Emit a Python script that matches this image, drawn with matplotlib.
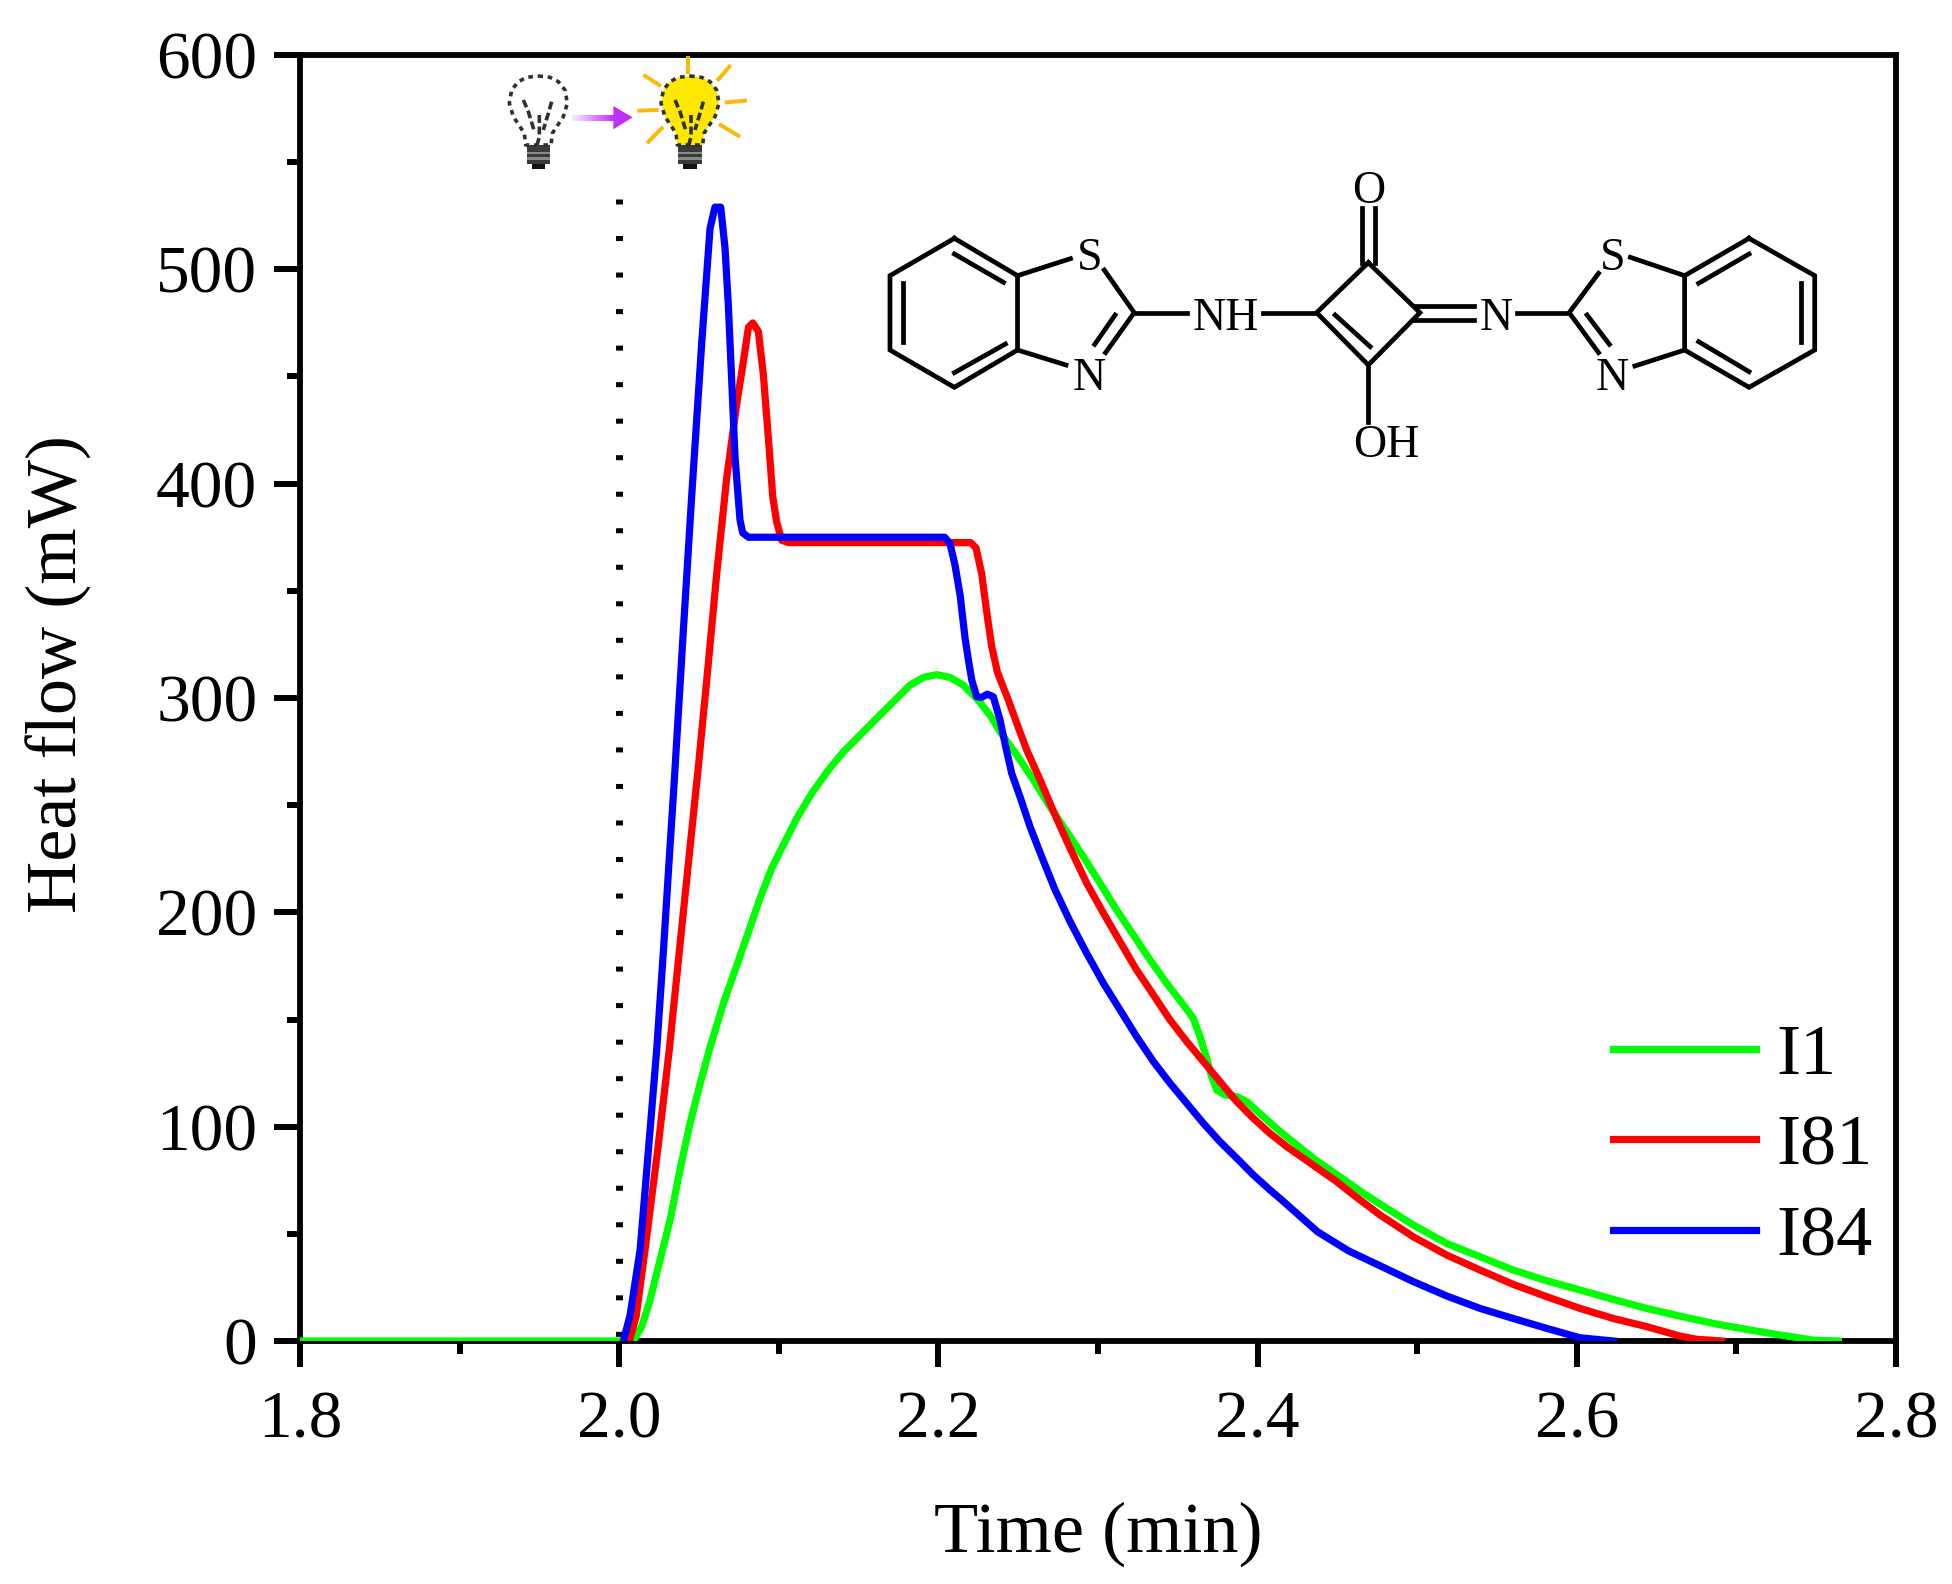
import matplotlib
matplotlib.use('Agg')
import matplotlib.pyplot as plt
from matplotlib.patches import Polygon, Rectangle
from matplotlib.ticker import MultipleLocator

plt.rcParams['font.family'] = ['Liberation Serif', 'DejaVu Serif']

# values
i1_x = [1.8, 2.0, 2.0089, 2.0141, 2.0193, 2.0256, 2.0319, 2.0381, 2.0444, 2.0507, 2.0569, 2.0653,
        2.0745, 2.082, 2.0882, 2.0955, 2.1028, 2.1112, 2.1206, 2.1311, 2.1405, 2.1509, 2.1613,
        2.1718, 2.1822, 2.1906, 2.1989, 2.2073, 2.2156, 2.224, 2.2323, 2.2386, 2.2491, 2.2595,
        2.2699, 2.2804, 2.2908, 2.3013, 2.3117, 2.3221, 2.3326, 2.343, 2.3535, 2.3597, 2.3639,
        2.3681, 2.3712, 2.3744, 2.3796, 2.3869, 2.3932, 2.4036, 2.4141, 2.4245, 2.4349, 2.4454,
        2.4558, 2.4662, 2.4767, 2.4976, 2.5185, 2.5394, 2.5602, 2.5811, 2.602, 2.6229, 2.6438,
        2.6647, 2.6856, 2.7064, 2.7273, 2.7482, 2.7639]
i1_y = [0, 0, 0, 6.7, 19, 37.8, 56.5, 80, 101.6, 120, 137, 157.6,
        177, 193, 206.5, 220.5, 231.4, 243.8, 255.5, 266.4, 274.9, 282.7, 290.5,
        298.3, 306, 309.6, 310.9, 309.6, 306, 299.8, 292, 284.3, 273.4, 261.8,
        249.3, 237.7, 226, 213.6, 201.1, 189.5, 177.8, 166.9, 156.8, 150.6, 142,
        131.9, 123.4, 117.1, 114.8, 114, 111.7, 104.7, 97.7, 91.5, 85.3, 79.8,
        74.4, 69, 63.9, 54.1, 45.5, 39.3, 33.1, 28.1, 23.8, 19.4, 15.2,
        11.6, 8.2, 5.4, 2.8, 0.4, 0]

i81_x = [2.0064, 2.0106, 2.0162, 2.0241, 2.0314, 2.0377, 2.0442, 2.0496, 2.0548, 2.0611, 2.0674,
         2.0736, 2.0778, 2.081, 2.0837, 2.0872, 2.0903, 2.0935, 2.0962, 2.0987, 2.1018, 2.106,
         2.2202, 2.2236, 2.2271, 2.2303, 2.2334, 2.237, 2.2438, 2.2491, 2.2553, 2.2637, 2.2731,
         2.2825, 2.2929, 2.3034, 2.3138, 2.3242, 2.3347, 2.3451, 2.3556, 2.366, 2.3764, 2.3869,
         2.3973, 2.4077, 2.4182, 2.4286, 2.4391, 2.4495, 2.46, 2.4767, 2.4976, 2.5185, 2.5394,
         2.5602, 2.5811, 2.602, 2.6229, 2.6438, 2.6647, 2.6751, 2.6908]
i81_y = [0, 11.4, 42.5, 89, 136, 182, 229, 268, 308, 358, 403,
         437, 457, 473, 475, 471, 451, 421, 394, 382, 373.6, 372.5,
         372.5, 370, 358, 340, 324, 312, 299.1, 288.2, 275.8, 261.8, 245.4,
         229.9, 213.6, 199.6, 186.3, 173.1, 161.5, 149.8, 139.7, 130.4, 121, 111.7,
         103.9, 96.9, 90.7, 85.3, 79.8, 74.4, 68.2, 58.8, 48.6, 40.1, 33.1,
         26.4, 20.7, 15.2, 10.5, 6.7, 2.3, 0.8, 0]

i84_x = [2.0026, 2.0068, 2.0131, 2.0183, 2.0235, 2.0277, 2.0317, 2.0344, 2.0402, 2.0454, 2.0517,
         2.0569, 2.06, 2.0636, 2.0663, 2.0684, 2.0705, 2.0726, 2.0757, 2.0774, 2.081, 2.204,
         2.2073, 2.2104, 2.2136, 2.2167, 2.2188, 2.2209, 2.224, 2.2271, 2.2307, 2.2344, 2.2386,
         2.2417, 2.2459, 2.2511, 2.2574, 2.2647, 2.2731, 2.2825, 2.2929, 2.3034, 2.3138, 2.3242,
         2.3347, 2.3451, 2.3556, 2.366, 2.3764, 2.3869, 2.3973, 2.4077, 2.4151, 2.4375, 2.4571,
         2.4767, 2.4976, 2.5185, 2.5394, 2.5602, 2.5811, 2.602, 2.6229]
i84_y = [0, 12, 42.5, 89, 136, 182, 229, 260, 331.6, 394, 465.6,
         519, 529, 529, 510, 483, 448, 412, 383, 377, 375, 375,
         372, 362, 348, 328, 317.7, 308.4, 300.6, 300.3, 301.8, 300.6, 289.8,
         278.9, 264.9, 254, 240, 226, 210.5, 195.7, 180.9, 166.9, 154.5, 142,
         130.4, 120.3, 110.9, 101.6, 93, 85.3, 77.5, 70.5, 65.8, 51, 42,
         35.1, 27.7, 21, 15.2, 10.5, 5.9, 1.5, 0]

labels = ['I1', 'I81', 'I84']
colors = ['#00FF00', '#FF0000', '#0000FF']

fig = plt.figure(figsize=(19.52, 15.84), dpi=100)
ax = fig.add_axes([300 / 1952, 1 - 1341 / 1584, 1596 / 1952, 1286 / 1584])

ax.plot([2.0, 2.0], [532.6, 0], color='black', lw=5, linestyle=(0, (0.72, 4.54)), zorder=2, clip_on=False)
ax.plot(i1_x, i1_y, color=colors[0], lw=5.2, label=labels[0], zorder=3)
ax.plot(i81_x, i81_y, color=colors[1], lw=5.2, label=labels[1], zorder=3)
ax.plot(i84_x, i84_y, color=colors[2], lw=5.2, label=labels[2], zorder=3)

ax.set_xlim(1.8, 2.8)
ax.set_ylim(0, 600)
ax.set_xticks([1.8, 2.0, 2.2, 2.4, 2.6, 2.8])
ax.set_xticklabels(['1.8', '2.0', '2.2', '2.4', '2.6', '2.8'])
ax.set_yticks([0, 100, 200, 300, 400, 500, 600])
ax.xaxis.set_minor_locator(MultipleLocator(0.1))
ax.yaxis.set_minor_locator(MultipleLocator(50))
ax.tick_params(which='major', length=18.7, width=4.3, labelsize=48.5)
ax.tick_params(axis='x', which='major', pad=17)
ax.tick_params(axis='y', which='major', pad=12)
ax.tick_params(which='minor', length=9.4, width=4.3)
for s in ax.spines.values():
    s.set_linewidth(4.2)
ax.set_xlabel('Time (min)', fontsize=52, labelpad=36)
ax.set_ylabel('Heat flow (mW)', fontsize=52)
ax.yaxis.set_label_coords(-0.1303, 0.519)
ax.legend(loc='lower right', bbox_to_anchor=(0.9853, 0.0552), frameon=False, fontsize=52, borderpad=0,
          borderaxespad=0, handlelength=1.98, handletextpad=0.28, labelspacing=0.345)

# overlay in image pixels for the molecule and the bulbs
ov = fig.add_axes([0, 0, 1, 1], zorder=5)
ov.set_xlim(0, 1952)
ov.set_ylim(1584, 0)
ov.axis('off')
ov.patch.set_alpha(0)


def mol_xy(zx, zy):
    return 860 + zx / 1.568, 160 + zy / 3


mol_bonds = [
    # left benzene
    [(148, 235), (247, 347), (247, 570), (148, 682), (47, 570), (47, 347), (148, 235)],
    [(148, 282), (225, 367)], [(67, 370), (67, 547)], [(148, 638), (228, 552)],
    # left thiazole
    [(247, 347), (330, 296)], [(247, 570), (323, 615)], [(383, 330), (430, 458), (385, 578)],
    [(400, 465), (368, 553)], [(430, 458), (513, 458)], [(632, 458), (716, 458)],
    # squaraine ring
    [(797, 308), (878, 458), (797, 615), (716, 458), (797, 308)], [(745, 465), (800, 560)],
    [(787, 310), (787, 145)], [(808, 310), (808, 145)], [(797, 615), (797, 785)],
    [(870, 437), (963, 437)], [(870, 480), (963, 480)], [(1030, 458), (1112, 458)],
    # right thiazole
    [(1158, 340), (1112, 458), (1158, 578)], [(1140, 465), (1175, 553)],
    [(1208, 292), (1293, 347)], [(1215, 618), (1293, 570)],
    # right benzene
    [(1394, 235), (1497, 347), (1497, 570), (1394, 682), (1293, 570), (1293, 347), (1394, 235)],
    [(1315, 370), (1394, 282)], [(1475, 370), (1475, 547)], [(1315, 545), (1394, 635)],
]
mol_atoms = [('S', 360, 285), ('N', 360, 645), ('NH', 573, 465), ('O', 797, 85), ('OH', 825, 848),
             ('N', 997, 465), ('S', 1180, 285), ('N', 1180, 645)]

for bond in mol_bonds:
    pts = [mol_xy(*p) for p in bond]
    ov.plot([p[0] for p in pts], [p[1] for p in pts], color='black', lw=3.4, solid_joinstyle='miter')
for name, zx, zy in mol_atoms:
    px, py = mol_xy(zx, zy)
    ov.text(px, py + 3.5, name, fontsize=33, ha='center', va='center')


def bulb(dx, fill):
    def xy(zx, zy):
        return 480 + (zx + dx) / 3, 40 + zy / 3
    half = [(0, 108), (35, 112), (60, 125), (80, 150), (87, 190), (75, 230), (55, 260), (42, 280), (38, 315)]
    outline = [(175 + a, b) for a, b in half] + [(175 - a, b) for a, b in reversed(half)]
    pts = [xy(*p) for p in outline]
    if fill:
        ov.add_patch(Polygon(pts, closed=True, facecolor=fill, edgecolor='none'))
    ov.plot([p[0] for p in pts], [p[1] for p in pts], color='#303030', lw=2.6, linestyle=(0, (1.3, 1.3)))
    for fil in [[(130, 180), (145, 215), (162, 270)], [(215, 185), (205, 220), (190, 270)],
                [(178, 225), (178, 290), (170, 320)]]:
        f = [xy(*p) for p in fil]
        ov.plot([p[0] for p in f], [p[1] for p in f], color='#303030', lw=2.6, linestyle=(0, (2.2, 1.0)))
    x0, y0 = xy(140, 315)
    ov.add_patch(Rectangle((x0, y0), 70 / 3, 58 / 3, facecolor='#3a3a3a', edgecolor='none'))
    for zy in [335, 352]:
        x1, y1 = xy(140, zy)
        ov.add_patch(Rectangle((x1, y1), 70 / 3, 7 / 3, facecolor='#8a8a8a', edgecolor='none'))
    x2, y2 = xy(155, 373)
    ov.add_patch(Rectangle((x2, y2), 40 / 3, 15 / 3, facecolor='#111111', edgecolor='none'))


bulb(0, None)
bulb(455, '#FFE800')

ray_lines = [[(625, 55), (625, 95)], [(715, 118), (748, 80)], [(740, 187), (795, 182)],
             [(722, 255), (775, 287)], [(505, 305), (545, 265)], [(478, 212), (530, 210)],
             [(495, 108), (538, 135)]]
for a, b in ray_lines:
    ov.plot([480 + a[0] / 3, 480 + b[0] / 3], [40 + a[1] / 3, 40 + b[1] / 3], color='#FFB800', lw=2.8)

# arrow between the bulbs, fading to the left
for i in range(42):
    ov.add_patch(Rectangle((480 + (275 + i * 3) / 3, 40 + 225 / 3), 1.05, 18 / 3, facecolor='#BF30FF',
                           alpha=0.1 + 0.9 * (i / 41), edgecolor='none'))
ov.add_patch(Polygon([(480 + 400 / 3, 40 + 198 / 3), (480 + 458 / 3, 40 + 232 / 3), (480 + 400 / 3, 40 + 268 / 3)],
                     closed=True, facecolor='#BF30FF', edgecolor='none'))

fig.savefig('out.png', dpi=100)
